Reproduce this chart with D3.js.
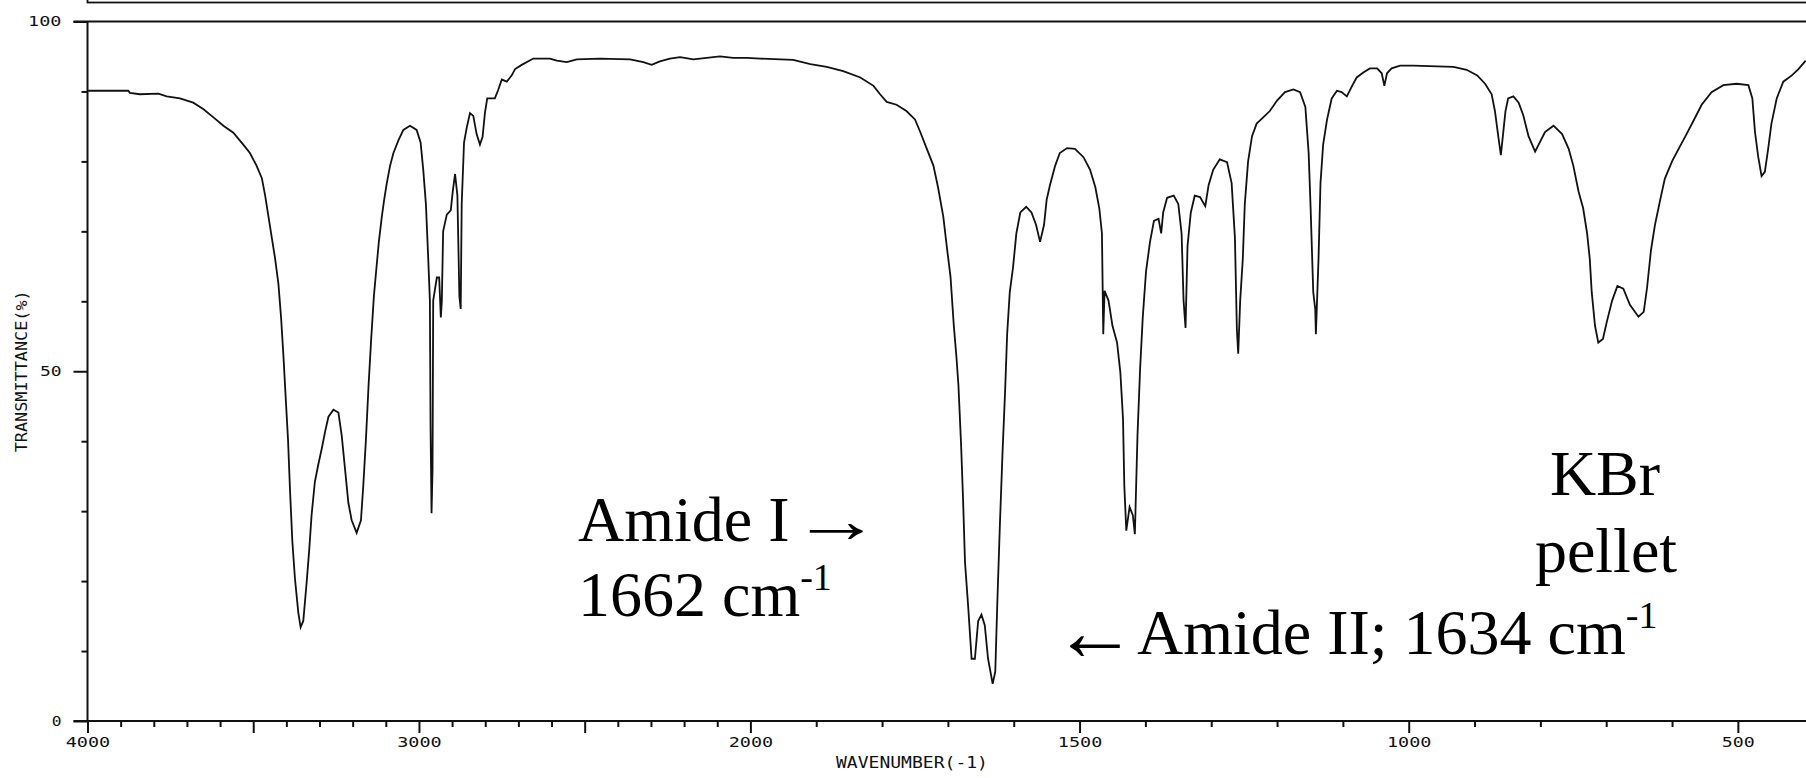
<!DOCTYPE html>
<html>
<head>
<meta charset="utf-8">
<script src="https://cdn.jsdelivr.net/npm/d3@7"></script>
<style>
  html, body { margin: 0; padding: 0; background: #fff; }
  svg { display: block; }
</style>
</head>
<body>
<svg id="chart" width="1806" height="778"></svg>
<script>
// ---- data ----
const wavenumbers = [
  4000,3877,3872,3842,3786,3761,3721,3681,3651,3620,3590,3560,3530,3510,3490,3474,3464,3454,3444,3434,
  3424,3416,3409,3402,3395,3389,3382,3374,3364,3357,3349,3339,3331,3324,3314,3304,3293,3283,3273,3258,
  3243,3233,3223,3213,3203,3188,3175,3168,3160,3152,3144,3136,3128,3121,3112,3105,3097,3087,3077,3062,
  3047,3027,3007,2995,2987,2979,2972,2967,2965,2962,2959,2957,2946,2939,2934,2931,2927,2916,2904,2898,
  2891,2884,2878,2874,2871,2864,2856,2846,2836,2826,2816,2808,2801,2794,2771,2761,2750,2735,2720,2710,
  2690,2655,2605,2584,2554,2524,2454,2363,2323,2298,2273,2243,2212,2172,2132,2092,2052,2011,1985,1935,
  1909,1884,1859,1833,1813,1803,1793,1778,1763,1750,1742,1732,1722,1715,1707,1701,1696,1691,1687,1684,
  1680,1677,1674,1669,1664,1659,1654,1649,1644,1639,1632,1628,1625,1621,1617,1613,1610,1606,1601,1596,
  1590,1581,1573,1566,1560,1554,1550,1545,1537,1530,1519,1507,1494,1484,1476,1470,1466,1464,1462,1456,
  1450,1443,1438,1434,1432,1429,1424,1419,1416,1412,1408,1404,1399,1393,1387,1380,1376,1373,1367,1357,
  1350,1345,1342,1339,1336,1331,1325,1317,1309,1304,1297,1287,1276,1269,1264,1261,1259,1256,1252,1249,
  1244,1238,1231,1221,1211,1200,1188,1175,1165,1157,1152,1149,1145,1142,1141,1137,1134,1130,1124,1117,
  1109,1102,1094,1086,1079,1069,1059,1048,1041,1037,1033,1026,1013,993,932,912,896,884,874,869,
  864,860,857,853,849,841,833,826,818,808,793,780,767,757,750,742,735,729,725,722,
  717,712,705,699,691,683,674,664,651,643,638,632,626,618,611,600,590,578,568,555,
  540,522,502,484,478,474,469,464,459,454,449,441,431,418,408,397
];
const transmittance = [
  90.1,90.1,89.8,89.6,89.7,89.3,89.0,88.4,87.5,86.3,85.1,84.1,82.4,81.2,79.4,77.6,75.1,72.1,69.1,66.1,
  62.5,57.7,52.3,46.2,40.2,33.0,25.7,20.3,15.5,13.4,14.3,19.7,24.5,29.4,34.2,36.6,39.0,41.4,43.5,44.5,
  44.1,40.8,36.0,31.2,28.7,26.9,28.7,33.6,40.2,48.0,54.7,60.7,64.9,68.5,72.1,74.5,76.9,79.4,81.2,83.0,
  84.5,85.1,84.5,82.7,78.8,73.9,66.1,60.1,42.0,29.7,36.0,60.1,63.4,63.4,57.7,60.0,70.0,72.4,73.0,75.7,
  78.2,75.1,60.7,58.9,73.9,82.7,84.8,86.9,86.5,83.9,82.4,83.5,86.9,89.0,89.0,90.2,91.7,91.4,92.3,93.2,
  93.8,94.7,94.7,94.4,94.2,94.6,94.7,94.6,94.2,93.8,94.3,94.7,94.9,94.6,94.8,95.0,94.8,94.8,94.7,94.5,
  93.9,93.5,92.9,92.0,90.8,89.6,88.5,88.1,87.2,86.0,84.2,81.8,79.4,76.3,72.1,67.3,63.5,56.5,52.0,48.0,
  39.6,31.8,22.7,16.1,8.9,8.9,14.3,15.2,13.7,8.9,5.3,7.1,16.7,28.1,38.4,47.4,55.3,61.3,64.9,69.7,
  72.7,73.5,72.7,70.9,68.5,70.9,74.5,76.6,79.4,81.2,81.9,81.8,80.6,78.8,76.3,73.3,69.7,55.3,61.5,60.1,
  56.5,54.1,49.8,43.2,33.6,27.2,30.6,29.4,26.7,40.8,50.4,57.7,64.3,68.5,71.5,71.8,69.7,72.7,74.8,75.1,
  73.9,69.7,60.1,56.2,67.9,72.7,75.1,74.9,73.6,76.6,78.8,80.3,79.9,76.9,69.1,55.9,52.5,60.1,66.1,73.9,
  80.0,83.6,85.4,86.3,87.2,88.7,89.9,90.3,89.9,87.8,81.2,73.3,61.3,58.9,55.3,66.1,76.9,82.4,86.0,89.0,
  90.1,89.9,89.3,90.8,92.0,92.7,93.3,93.3,92.6,90.8,92.6,93.3,93.7,93.7,93.5,93.1,92.3,91.1,89.6,87.2,
  83.6,80.9,83.6,87.2,89.0,89.3,88.4,86.6,83.6,81.4,84.2,85.1,83.9,81.8,79.4,75.7,73.3,69.7,66.1,61.3,
  56.5,54.1,54.6,57.1,60.1,62.2,61.8,59.5,57.8,58.5,61.9,67.3,70.9,74.5,77.5,80.0,81.8,83.9,85.7,88.1,
  89.9,90.9,91.1,90.9,89.0,84.2,80.6,77.9,78.5,81.8,85.4,89.0,91.4,92.3,93.2,94.4
];
const xTickValues = d3.range(4000, 499, -100);
const xMajorTicks = [4000, 3500, 3000, 2500, 2000, 1500, 1000, 500];
const xTickLabels = ["4000", "3000", "2000", "1500", "1000", "500"];
const yTickValues = d3.range(0, 101, 10);
const yMajorTicks = [0, 50, 100];
const yTickLabels = ["0", "50", "100"];
const xTitle = "WAVENUMBER(-1)";
const yTitle = "TRANSMITTANCE(%)";

// ---- layout ----
const W = 1806, H = 778;
const svg = d3.select("#chart");
const x = d3.scaleLinear().domain([4000, 2000, 400]).range([87.5, 750.4, 1803.7]);
const y = d3.scaleLinear().domain([0, 100]).range([721, 21.5]);
const tickFont = "'DejaVu Sans Mono', monospace";

// top box edge (part of an upper panel)
svg.append("rect")
  .attr("x", x(4000)).attr("y", -20)
  .attr("width", W).attr("height", 22.5)
  .attr("fill", "none").attr("stroke", "#111").attr("stroke-width", 1.8);

// frame lines: top (100%) and bottom (0%), y axis
const frame = svg.append("g").attr("stroke", "#111").attr("stroke-width", 2).attr("fill", "none");
frame.append("line").attr("x1", x(4000) - 14).attr("x2", W).attr("y1", y(100)).attr("y2", y(100));
frame.append("line").attr("x1", x(4000) - 14).attr("x2", W).attr("y1", y(0)).attr("y2", y(0));
frame.append("line").attr("x1", x(4000)).attr("x2", x(4000)).attr("y1", y(100)).attr("y2", y(0));

// x axis minor ticks
const xMinor = d3.axisBottom(x).tickValues(xTickValues.filter(v => !xMajorTicks.includes(v)))
  .tickSize(6).tickFormat("");
svg.append("g").attr("transform", `translate(0,${y(0)})`).call(xMinor)
  .call(g => g.select(".domain").remove())
  .call(g => g.selectAll("line").attr("stroke", "#111").attr("stroke-width", 2));

// x axis major ticks with labels
const xMajor = d3.axisBottom(x).tickValues(xMajorTicks).tickSize(12).tickPadding(4)
  .tickFormat(d => xTickLabels.includes(String(d)) ? String(d) : "");
svg.append("g").attr("transform", `translate(0,${y(0)})`).call(xMajor)
  .call(g => g.select(".domain").remove())
  .call(g => g.selectAll("line").attr("stroke", "#111").attr("stroke-width", 2))
  .call(g => g.selectAll("text")
    .attr("font-family", tickFont).attr("font-size", 14).attr("fill", "#111")
    .attr("dy", "0.71em")
    .each(function(d) {
      const s = this.textContent;
      if (s) d3.select(this).attr("textLength", s.length * 11.5 - 1.5).attr("lengthAdjust", "spacingAndGlyphs");
    }));

// y axis minor ticks
const yMinor = d3.axisLeft(y).tickValues(yTickValues.filter(v => !yMajorTicks.includes(v)))
  .tickSize(6).tickFormat("");
svg.append("g").attr("transform", `translate(${x(4000)},0)`).call(yMinor)
  .call(g => g.select(".domain").remove())
  .call(g => g.selectAll("line").attr("stroke", "#111").attr("stroke-width", 2));

// y axis major ticks with labels
const yMajor = d3.axisLeft(y).tickValues(yMajorTicks).tickSize(14).tickPadding(12)
  .tickFormat((d, i) => yTickLabels[i]);
svg.append("g").attr("transform", `translate(${x(4000)},0)`).call(yMajor)
  .call(g => g.select(".domain").remove())
  .call(g => g.selectAll("line").attr("stroke", "#111").attr("stroke-width", 2))
  .call(g => g.selectAll("text")
    .attr("font-family", tickFont).attr("font-size", 14).attr("fill", "#111")
    .each(function() {
      const s = this.textContent;
      d3.select(this).attr("textLength", s.length * 11.8 - 2).attr("lengthAdjust", "spacingAndGlyphs");
    }));

// axis titles
svg.append("text")
  .attr("x", (x(2000) + x(1500)) / 2 - 3).attr("y", 768)
  .attr("text-anchor", "middle")
  .attr("font-family", tickFont).attr("font-size", 15).attr("fill", "#111")
  .attr("textLength", 152).attr("lengthAdjust", "spacingAndGlyphs")
  .text(xTitle);
svg.append("text")
  .attr("transform", `translate(27,${y(50)}) rotate(-90)`)
  .attr("text-anchor", "middle")
  .attr("font-family", tickFont).attr("font-size", 15).attr("fill", "#111")
  .attr("textLength", 162).attr("lengthAdjust", "spacingAndGlyphs")
  .text(yTitle);

// spectrum
const pts = wavenumbers.map((w, i) => [w, transmittance[i]]);
const line = d3.line().x(d => x(d[0])).y(d => y(d[1]));
svg.append("path").datum(pts)
  .attr("d", line)
  .attr("fill", "none").attr("stroke", "#111").attr("stroke-width", 1.8)
  .attr("stroke-linejoin", "miter");

// annotations
const serif = "'Liberation Serif', 'Times New Roman', serif";
const ann = svg.append("g").attr("font-family", serif).attr("font-size", 64).attr("fill", "#000");

// "Amide I →" : the long arrow is a stretched glyph right after the words
const a1 = ann.append("text").attr("x", 578).attr("y", 541).text("Amide I");
const a1w = a1.node().getComputedTextLength();
ann.append("text")
  .attr("transform", `translate(${Math.max(578 + a1w + 2, 789)},542) scale(1.4,1)`)
  .text("\u2192");

const t2 = ann.append("text").attr("x", 578).attr("y", 616);
t2.append("tspan").text("1662 cm");
t2.append("tspan").attr("font-size", 38).attr("dy", -26).text("-1");

// "←Amide II; 1634 cm-1"
const t3 = ann.append("text").attr("x", 1053).attr("y", 654);
t3.append("tspan").attr("font-size", 84).attr("dy", 5.5).text("\u2190");
t3.append("tspan").attr("dy", -5.5).text("Amide II; 1634 cm");
t3.append("tspan").attr("font-size", 38).attr("dy", -26).text("-1");

ann.append("text").attr("x", 1605).attr("y", 495).attr("text-anchor", "middle").text("KBr");
ann.append("text").attr("x", 1606).attr("y", 572).attr("text-anchor", "middle").text("pellet");
</script>
</body>
</html>
